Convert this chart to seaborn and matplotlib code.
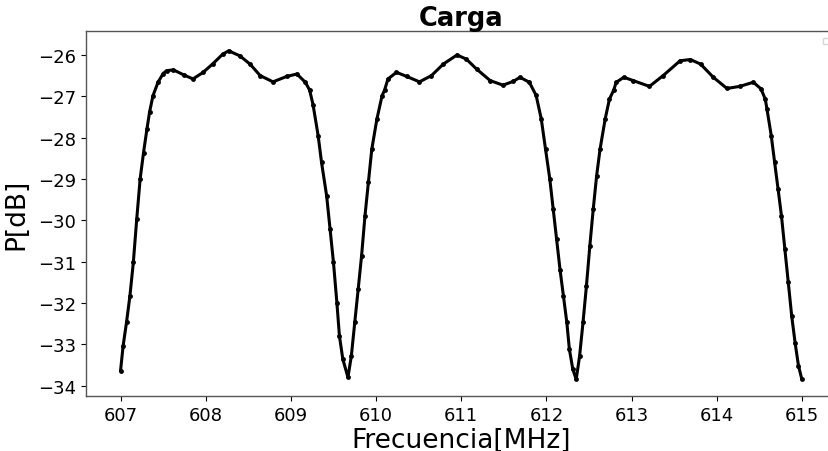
import numpy as np
import pandas as pd
import matplotlib
matplotlib.use("Agg")
import matplotlib.pyplot as plt
import seaborn as sns

# values (frequency in MHz, power in dB)
frecuencia = [
    607.00, 607.03, 607.07, 607.11, 607.15, 607.19, 607.23, 607.27, 607.31, 607.34,
    607.38, 607.44, 607.50, 607.54, 607.62, 607.74, 607.85, 607.97, 608.08, 608.20,
    608.27, 608.40, 608.52, 608.64, 608.79, 608.95, 609.07, 609.17, 609.22, 609.26,
    609.32, 609.36, 609.42, 609.46, 609.50, 609.54, 609.57, 609.61, 609.67, 609.71,
    609.75, 609.79, 609.83, 609.87, 609.91, 609.95, 610.01, 610.07, 610.10, 610.14,
    610.24, 610.36, 610.51, 610.65, 610.79, 610.95, 611.06, 611.18, 611.34, 611.49,
    611.61, 611.69, 611.80, 611.88, 611.94, 611.99, 612.04, 612.08, 612.12, 612.16,
    612.20, 612.24, 612.27, 612.31, 612.35, 612.39, 612.43, 612.47, 612.51, 612.55,
    612.59, 612.63, 612.69, 612.74, 612.79, 612.82, 612.91, 613.02, 613.21, 613.37,
    613.57, 613.69, 613.81, 613.96, 614.12, 614.27, 614.43, 614.52, 614.57, 614.59,
    614.64, 614.68, 614.72, 614.76, 614.80, 614.84, 614.88, 614.92, 614.96, 615.00,
]
potencia = [
    -33.64, -33.04, -32.47, -31.83, -31.02, -29.97, -29.00, -28.36, -27.79, -27.39,
    -26.99, -26.66, -26.45, -26.38, -26.36, -26.48, -26.58, -26.42, -26.22, -25.98,
    -25.90, -26.02, -26.22, -26.50, -26.65, -26.52, -26.46, -26.66, -26.85, -27.20,
    -27.95, -28.60, -29.41, -30.21, -31.02, -31.99, -32.80, -33.36, -33.80, -33.28,
    -32.47, -31.67, -30.86, -29.89, -29.08, -28.28, -27.55, -26.99, -26.85, -26.58,
    -26.42, -26.52, -26.65, -26.50, -26.22, -26.00, -26.10, -26.34, -26.62, -26.73,
    -26.64, -26.54, -26.66, -26.98, -27.55, -28.28, -29.00, -29.73, -30.46, -31.19,
    -31.83, -32.47, -33.12, -33.60, -33.85, -33.28, -32.47, -31.59, -30.62, -29.73,
    -28.92, -28.28, -27.55, -27.07, -26.85, -26.66, -26.54, -26.62, -26.76, -26.50,
    -26.14, -26.11, -26.22, -26.54, -26.81, -26.76, -26.66, -26.82, -27.07, -27.31,
    -27.95, -28.60, -29.24, -29.89, -30.70, -31.50, -32.31, -32.96, -33.52, -33.85,
]

df = pd.DataFrame({"Frecuencia": frecuencia, "P": potencia})

sns.set_style("ticks")
plt.rcParams["font.family"] = ["DejaVu Sans"]
plt.rcParams["text.color"] = "black"
plt.rcParams["axes.labelcolor"] = "black"

fig = plt.figure(figsize=(8.29, 4.52), dpi=100)
# axes run a little past the right edge, like the cropped original
ax = fig.add_axes([0.1037, 0.1217, 0.9047, 0.8075])

sns.lineplot(data=df, x="Frecuencia", y="P", color="black", lw=2.2,
             marker="o", markersize=3.5, markeredgewidth=0, ax=ax)

ax.set_xlim(606.594, 615.40)
ax.set_ylim(-34.25, -25.42)
ax.set_xticks(np.arange(607, 616, 1))
ax.set_yticks(np.arange(-34, -25, 1))
ax.tick_params(labelsize=13, direction="out", length=3.5, width=0.8,
               colors="black", labelcolor="black")
for s in ax.spines.values():
    s.set_color("#555555")
    s.set_linewidth(1.0)

ax.set_xlabel("Frecuencia[MHz]", fontsize=19, labelpad=2, color="black")
ax.set_ylabel("P[dB]", fontsize=19, labelpad=6, color="black")
ax.set_title("Carga", fontsize=18.5, fontweight="bold", pad=4, color="black")
ax.legend(handles=[], loc="upper right", fontsize=6, borderaxespad=0.8)

fig.savefig("out.png", dpi=100)
